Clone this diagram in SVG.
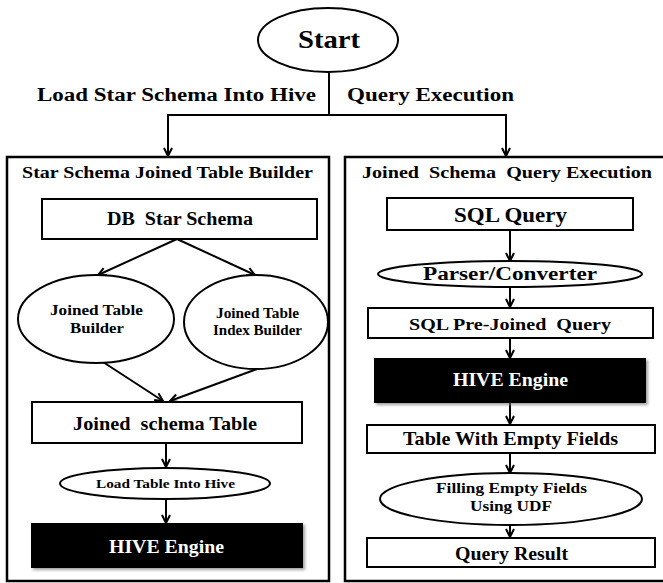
<svg xmlns="http://www.w3.org/2000/svg" width="663" height="583" viewBox="0 0 663 583">
<style>
text{font-family:"Liberation Serif","Times New Roman",serif;font-weight:bold;fill:#000}
.panel{fill:none;stroke:#000;stroke-width:2.5}
.box{fill:#fff;stroke:#000;stroke-width:2}
.dark{fill:#000;stroke:#000;stroke-width:2;filter:url(#sh)}
.ell{fill:#fff;stroke:#000;stroke-width:2}
.wt{fill:#fff}
#connectors line{stroke:#000;stroke-width:2;fill:none}
.arr{marker-end:url(#ah)}
</style>
<defs>
<marker id="ah" viewBox="0 0 10 10" refX="9" refY="5" markerWidth="10" markerHeight="10" markerUnits="userSpaceOnUse" orient="auto">
<path d="M1,1 L9,5 L1,9" fill="none" stroke="#000" stroke-width="2"/>
</marker>
<filter id="sh" x="-10%" y="-20%" width="130%" height="150%">
<feDropShadow dx="2" dy="2" stdDeviation="1.5" flood-color="#777" flood-opacity="0.7"/>
</filter>
</defs>
<rect width="663" height="583" fill="#fff"/>

<g id="panel-left">
<rect class="panel" x="7" y="157" width="322" height="424"/>
<text x="22" y="178" font-size="16.5" textLength="291" lengthAdjust="spacingAndGlyphs">Star Schema Joined Table Builder</text>
</g>
<g id="panel-right">
<rect class="panel" x="345" y="157" width="320" height="424"/>
<text x="362" y="178" font-size="16.5" textLength="290" lengthAdjust="spacingAndGlyphs" xml:space="preserve">Joined  Schema  Query Execution</text>
</g>

<g id="connectors">
<line x1="329" y1="72" x2="329" y2="116"/>
<line x1="167" y1="115" x2="507" y2="115"/>
<line class="arr" x1="168" y1="115" x2="168" y2="156"/>
<line class="arr" x1="506" y1="115" x2="506" y2="156"/>
<line class="arr" x1="177" y1="239" x2="98" y2="275"/>
<line class="arr" x1="177" y1="239" x2="255" y2="275"/>
<line class="arr" x1="103" y1="362" x2="163" y2="401"/>
<line class="arr" x1="257" y1="369" x2="170" y2="401"/>
<line class="arr" x1="166" y1="443" x2="166" y2="467"/>
<line class="arr" x1="166" y1="499" x2="166" y2="523"/>
<line class="arr" x1="510" y1="230" x2="510" y2="261"/>
<line class="arr" x1="510" y1="287" x2="510" y2="307"/>
<line class="arr" x1="510" y1="338" x2="510" y2="358"/>
<line class="arr" x1="510" y1="402" x2="510" y2="424"/>
<line class="arr" x1="510" y1="453" x2="510" y2="473"/>
<line class="arr" x1="510" y1="525" x2="510" y2="537"/>
</g>

<g id="start">
<ellipse class="ell" cx="328" cy="40" rx="70" ry="32"/>
<text x="298" y="48" font-size="26" textLength="62" lengthAdjust="spacingAndGlyphs">Start</text>
</g>
<g id="label-load">
<text x="37" y="101" font-size="18" textLength="279" lengthAdjust="spacingAndGlyphs">Load Star Schema Into Hive</text>
</g>
<g id="label-query">
<text x="347" y="101" font-size="18" textLength="167" lengthAdjust="spacingAndGlyphs">Query Execution</text>
</g>

<g id="db-star-schema">
<rect class="box" x="42" y="199" width="275" height="40"/>
<text x="107" y="225" font-size="18" textLength="146" lengthAdjust="spacingAndGlyphs" xml:space="preserve">DB  Star Schema</text>
</g>
<g id="joined-table-builder">
<ellipse class="ell" cx="96" cy="319" rx="78" ry="44"/>
<text x="50" y="315" font-size="15" textLength="93" lengthAdjust="spacingAndGlyphs">Joined Table</text>
<text x="70" y="333" font-size="15" textLength="54" lengthAdjust="spacingAndGlyphs">Builder</text>
</g>
<g id="joined-table-index-builder">
<ellipse class="ell" cx="256" cy="322" rx="72" ry="47"/>
<text x="216" y="318" font-size="14" textLength="83" lengthAdjust="spacingAndGlyphs">Joined Table</text>
<text x="213" y="335" font-size="14" textLength="89" lengthAdjust="spacingAndGlyphs">Index Builder</text>
</g>
<g id="joined-schema-table">
<rect class="box" x="32" y="402" width="270" height="41"/>
<text x="73" y="430" font-size="19" textLength="184" lengthAdjust="spacingAndGlyphs" xml:space="preserve">Joined  schema Table</text>
</g>
<g id="load-table-into-hive">
<ellipse class="ell" cx="165" cy="483.5" rx="105" ry="15.5"/>
<text x="96" y="488" font-size="13" textLength="139" lengthAdjust="spacingAndGlyphs">Load Table Into Hive</text>
</g>
<g id="hive-engine-left">
<rect class="dark" x="32" y="524" width="270" height="43"/>
<text class="wt" x="109" y="553" font-size="19" textLength="115" lengthAdjust="spacingAndGlyphs">HIVE Engine</text>
</g>

<g id="sql-query">
<rect class="box" x="387" y="198" width="246" height="32"/>
<text x="454" y="222" font-size="20" textLength="113" lengthAdjust="spacingAndGlyphs">SQL Query</text>
</g>
<g id="parser-converter">
<ellipse class="ell" cx="510" cy="274" rx="132" ry="13"/>
<text x="423" y="280" font-size="18.5" textLength="174" lengthAdjust="spacingAndGlyphs">Parser/Converter</text>
</g>
<g id="sql-pre-joined-query">
<rect class="box" x="368" y="308" width="285" height="30"/>
<text x="409" y="330" font-size="17.5" textLength="202" lengthAdjust="spacingAndGlyphs" xml:space="preserve">SQL Pre-Joined  Query</text>
</g>
<g id="hive-engine-right">
<rect class="dark" x="375" y="359" width="270" height="43"/>
<text class="wt" x="453" y="386" font-size="18" textLength="115" lengthAdjust="spacingAndGlyphs">HIVE Engine</text>
</g>
<g id="table-with-empty-fields">
<rect class="box" x="367" y="425" width="288" height="28"/>
<text x="403" y="445" font-size="19" textLength="215" lengthAdjust="spacingAndGlyphs">Table With Empty Fields</text>
</g>
<g id="filling-empty-fields">
<ellipse class="ell" cx="511" cy="499" rx="131" ry="26"/>
<text x="436" y="493" font-size="15" textLength="151" lengthAdjust="spacingAndGlyphs">Filling Empty Fields</text>
<text x="470" y="511" font-size="15" textLength="82" lengthAdjust="spacingAndGlyphs">Using UDF</text>
</g>
<g id="query-result">
<rect class="box" x="367" y="538" width="288" height="29"/>
<text x="455" y="560" font-size="19" textLength="113" lengthAdjust="spacingAndGlyphs">Query Result</text>
</g>
</svg>
